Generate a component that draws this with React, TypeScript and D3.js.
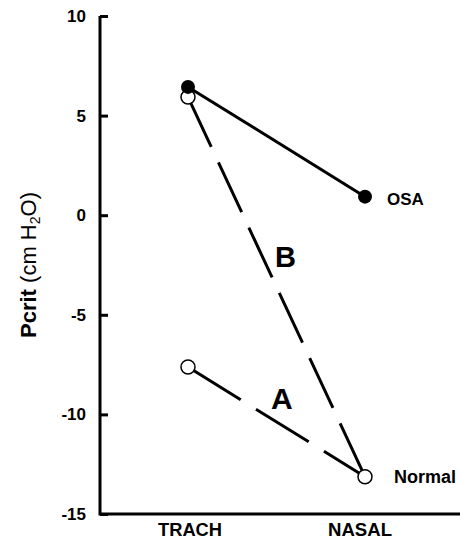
import { useEffect, useRef } from "react";
import * as d3 from "d3";

const conditions = ["TRACH", "NASAL"];
const yTicks = [10, 5, 0, -5, -10, -15];

// lines: [TRACH, NASAL]
const osaValues = [6.44, 0.93];
const lineBValues = [5.93, -13.13];
const lineAValues = [-7.62, -13.13];

const W = 463;
const H = 541;

export default function App() {
  const ref = useRef<SVGSVGElement>(null);

  useEffect(() => {
    const svg = d3.select(ref.current);
    svg.selectAll("*").remove();

    const x = d3.scalePoint<string>().domain(conditions).range([188, 365]);
    const y = d3.scaleLinear().domain([-15, 10]).range([514, 16]);

    const font = "Arial, 'Liberation Sans', Helvetica, sans-serif";

    // axes
    const yAxis = d3
      .axisRight(y)
      .tickValues(yTicks)
      .tickSize(8)
      .tickFormat(() => "");
    const gy = svg
      .append("g")
      .attr("transform", "translate(100,0)")
      .call(yAxis);
    gy.select(".domain").remove();
    gy.selectAll(".tick line").attr("stroke", "#000").attr("stroke-width", 3);

    svg
      .append("path")
      .attr("d", `M100,${y(10)} V${y(-15)} H460`)
      .attr("fill", "none")
      .attr("stroke", "#000")
      .attr("stroke-width", 3);

    svg
      .append("g")
      .selectAll("text")
      .data(yTicks)
      .join("text")
      .attr("x", 86)
      .attr("y", (d) => y(d) + 6)
      .attr("text-anchor", "end")
      .attr("font-family", font)
      .attr("font-weight", "bold")
      .attr("font-size", 17)
      .text((d) => d);

    svg
      .append("g")
      .selectAll("text")
      .data(conditions)
      .join("text")
      .attr("x", (d) => (x(d) as number) + (d === "TRACH" ? 2 : -5))
      .attr("y", 536)
      .attr("text-anchor", "middle")
      .attr("font-family", font)
      .attr("font-weight", "bold")
      .attr("font-size", 19)
      .attr("textLength", 64)
      .attr("lengthAdjust", "spacingAndGlyphs")
      .text((d) => d);

    // y label
    const yl = svg
      .append("text")
      .attr("transform", "translate(36,265) rotate(-90)")
      .attr("text-anchor", "middle")
      .attr("font-family", font)
      .attr("font-size", 22);
    yl.append("tspan").attr("font-weight", "bold").text("Pcrit");
    yl.append("tspan").text(" (cm H");
    yl.append("tspan").attr("font-size", 14).attr("dy", 4).text("2");
    yl.append("tspan").attr("dy", -4).text("O)");

    const line = d3
      .line<number>()
      .x((_, i) => x(conditions[i]) as number)
      .y((d) => y(d));

    svg
      .append("path")
      .attr("d", line(lineBValues))
      .attr("fill", "none")
      .attr("stroke", "#000")
      .attr("stroke-width", 3)
      .attr("stroke-dasharray", "55 17");
    svg
      .append("path")
      .attr("d", line(lineAValues))
      .attr("fill", "none")
      .attr("stroke", "#000")
      .attr("stroke-width", 3)
      .attr("stroke-dasharray", "62 18");
    svg
      .append("path")
      .attr("d", line(osaValues))
      .attr("fill", "none")
      .attr("stroke", "#000")
      .attr("stroke-width", 3);

    const open = [
      { c: "TRACH", v: lineBValues[0] },
      { c: "TRACH", v: lineAValues[0] },
      { c: "NASAL", v: lineAValues[1] },
    ];
    svg
      .append("g")
      .selectAll("circle")
      .data(open)
      .join("circle")
      .attr("cx", (d) => x(d.c) as number)
      .attr("cy", (d) => y(d.v))
      .attr("r", 7)
      .attr("fill", "#fff")
      .attr("stroke", "#000")
      .attr("stroke-width", 1.5);

    svg
      .append("g")
      .selectAll("circle")
      .data(osaValues)
      .join("circle")
      .attr("cx", (_, i) => x(conditions[i]) as number)
      .attr("cy", (d) => y(d))
      .attr("r", 7)
      .attr("fill", "#000");

    // annotations
    const labels = [
      { t: "OSA", x: 387, y: 205, s: 17 },
      { t: "Normal", x: 394, y: 483, s: 18 },
      { t: "B", x: 275, y: 267, s: 29 },
      { t: "A", x: 271, y: 409, s: 30 },
    ];
    svg
      .append("g")
      .selectAll("text")
      .data(labels)
      .join("text")
      .attr("x", (d) => d.x)
      .attr("y", (d) => d.y)
      .attr("font-family", font)
      .attr("font-weight", "bold")
      .attr("font-size", (d) => d.s)
      .text((d) => d.t);
  }, []);

  return (
    <svg
      ref={ref}
      width={W}
      height={H}
      style={{ position: "absolute", left: 0, top: 0, background: "#fff" }}
    />
  );
}
